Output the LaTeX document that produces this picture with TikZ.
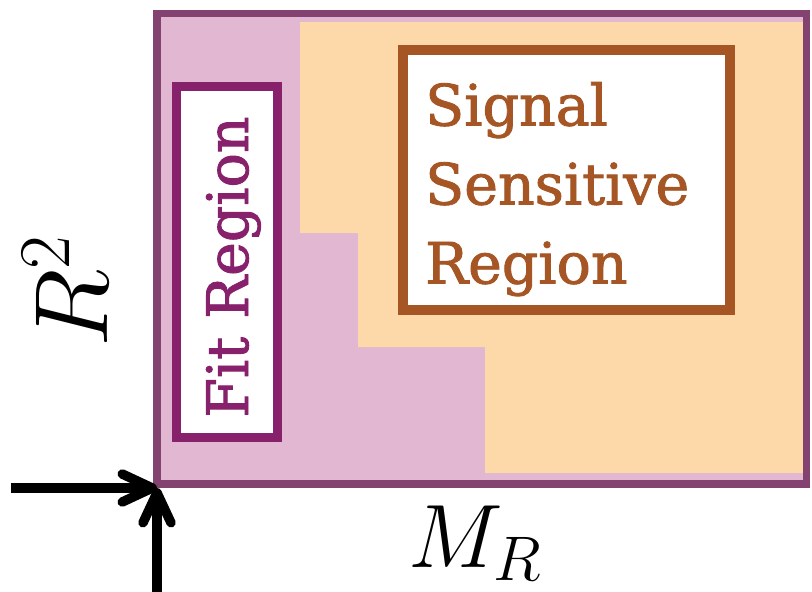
\RequirePackage{fix-cm}
\documentclass[tikz,border=0pt]{standalone}
\usepackage{fontspec}
\usepackage{tikz}
\usetikzlibrary{arrows.meta, positioning}
\newfontfamily\slabfont[FakeBold=1.6]{DejaVu Serif}
\definecolor{plumedge}{HTML}{844270}
\definecolor{plumfill}{HTML}{E2B7D2}
\definecolor{peachfill}{HTML}{FDD8A8}
\definecolor{sigbrown}{HTML}{A65624}
\definecolor{fitpurple}{HTML}{88216C}
\tikzset{
  regionbox/.style={draw=#1, fill=white, inner sep=0pt},
  regiontext/.style={text=#1, inner sep=0pt, font=\slabfont\fontsize{57}{79}\selectfont},
  axisarrow/.style={line width=9.5pt, -{Straight Barb[length=30pt, width=28pt, round]}},
}

\begin{document}
\begin{tikzpicture}[x=1pt, y=-1pt]
      \useasboundingbox (0,0) rectangle (812,592);
      \fill[plumfill] (157,13.5) rectangle (806.5,484);
      \fill[peachfill] (300,22) -| (804,473) -| (485,347) -| (358,233) -- (300,233) -- cycle;
      \draw[plumedge, line width=7.5pt] (157,13.5) rectangle (806.5,484);
      \node[regionbox=fitpurple, line width=9pt, minimum width=101pt, minimum height=351pt] (fitbox) at (227,262) {};
      \node[regiontext=fitpurple, rotate=90, anchor=base] (fittext) at (248,267) {Fit Region};
      \node[regionbox=sigbrown, line width=10pt, minimum width=327pt, minimum height=260pt] (sigbox) at (566.5,180) {};
      \node[regiontext=sigbrown, align=left, anchor=north west] (sigtext) at (425,82) {Signal\\Sensitive\\Region};
      \node[inner sep=0pt, font=\fontsize{104}{104}\selectfont, rotate=90, anchor=base west] (rsq) at (107,348) {$R^2$};
      \node[inner sep=0pt, font=\fontsize{90}{90}\selectfont, anchor=base west] (mr) at (408,567) {$M_R$};
      \coordinate (origin) at (157,488);
      \coordinate (hstart) at (11,488);
      \coordinate (vstart) at (157,600);
      \draw[axisarrow] (hstart) -- (origin);
      \draw[axisarrow] (vstart) -- (origin);
    \end{tikzpicture}
\end{document}
